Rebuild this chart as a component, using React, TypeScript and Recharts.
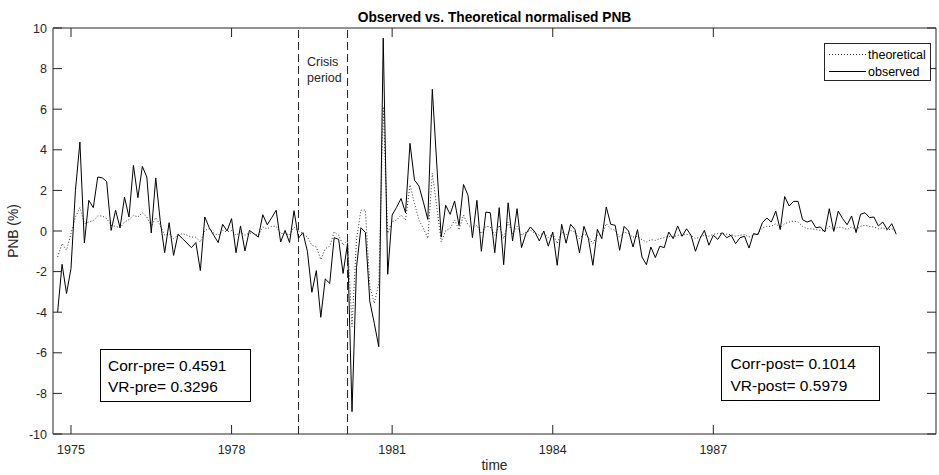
import { LineChart, Line, XAxis, YAxis, ReferenceLine } from "recharts"

// monthly series, first month is Oct 1974
const startYear = 1974.75

const observed = [
  -4.0, -1.64, -3.08, -1.85, 2.0, 4.38, -0.59, 1.51, 1.15, 2.66, 2.62, 2.44,
  0.03, 1.02, 0.16, 1.67, 0.69, 3.23, 1.64, 3.18, 2.66, -0.1, 2.61, 0.52,
  -1.07, 0.41, -1.2, -0.16, -0.38, -0.59, -0.82, -0.57, -1.95, 0.69, 0.16, -0.21,
  -0.57, 0.33, 0.0, 0.61, -1.07, 0.25, -0.98, 0.03, -0.13, -0.3, 0.8, 0.31,
  0.66, 1.02, -0.54, 0.03, -0.57, 1.0, -0.35, -0.08, -1.0, -3.02, -1.95, -4.25,
  -2.36, -2.58, -0.33, -0.41, -2.09, -0.61, -8.9, -1.8, 0.16, -0.07, -3.48, -4.55,
  -5.7, 9.5, -2.13, 0.79, 1.17, 1.6, 0.9, 4.32, 2.51, 2.22, 1.42, 0.57,
  6.98, 3.3, -0.3, 1.27, 0.82, 1.48, 0.27, 2.29, 1.76, -0.33, 1.51, -1.0,
  0.93, 0.9, -1.07, 1.15, -1.66, 1.39, -0.49, 1.1, -0.82, -0.13, 0.2, -0.05,
  -0.49, 0.0, -0.75, -0.05, -1.69, 0.33, -0.6, 0.33, 0.07, -1.08, 0.23, -0.38,
  -1.69, 0.08, -0.38, 1.18, 0.33, 0.28, -0.95, 0.23, 0.0, -0.79, 0.07, -1.28,
  -1.66, -0.79, -1.31, -0.75, -0.82, -0.05, -0.38, 0.25, -0.26, 0.11, -0.21, -1.0,
  -0.38, 0.03, -0.7, -0.21, -0.41, -0.08, -0.33, -0.21, -0.62, -0.33, -0.26, -0.84,
  -0.13, -0.18, 0.41, 0.64, 0.44, 0.98, 0.07, 1.7, 1.23, 1.46, 1.46, 0.56,
  0.44, 0.52, 0.16, 0.2, -0.05, 1.1, -0.02, 0.98, 0.61, 0.31, 0.74, -0.08,
  0.82, 0.9, 0.66, 0.69, 0.25, 0.44, 0.07, 0.36, -0.16,
]

const theoretical = [
  -1.28, -0.62, -0.95, -0.13, 0.69, 1.15, 0.36, 0.44, 0.52, 0.74, 0.74, 0.61,
  0.28, 0.23, 0.16, 0.44, 0.56, 0.77, 0.69, 0.9, 0.69, 0.23, 0.66, 0.28,
  -0.21, -0.13, -0.38, -0.21, -0.13, -0.21, -0.3, -0.3, -0.54, 0.03, 0.11, -0.1,
  -0.21, 0.03, -0.05, 0.03, -0.21, -0.05, -0.21, -0.1, -0.13, -0.21, 0.2, 0.11,
  0.23, 0.23, -0.13, -0.1, -0.21, 0.2, 0.0, -0.13, -0.3, -0.7, -0.79, -1.41,
  -0.87, -0.75, -0.05, -0.21, -0.7, -0.44, -4.71, -0.44, 1.03, 1.03, -2.74, -3.56,
  -2.58, 6.12, -0.11, 0.46, 0.54, 0.79, 0.54, 2.27, 1.36, 0.54, 0.13, -0.36,
  2.84, 1.2, -0.53, 0.02, 0.13, 0.54, 0.05, 0.79, 0.3, 0.11, 0.28, -0.13,
  0.23, 0.2, -0.21, 0.28, -0.38, 0.44, -0.13, 0.23, -0.21, -0.05, 0.03, -0.1,
  -0.21, -0.1, -0.33, -0.13, -0.62, -0.05, -0.21, 0.03, -0.05, -0.38, -0.13, -0.3,
  -0.62, -0.21, -0.21, 0.36, 0.11, 0.03, -0.3, -0.05, -0.13, -0.3, -0.26, -0.43,
  -0.54, -0.43, -0.46, -0.38, -0.33, -0.26, -0.3, -0.21, -0.21, -0.16, -0.21, -0.38,
  -0.3, -0.21, -0.26, -0.16, -0.13, -0.13, -0.16, -0.18, -0.26, -0.21, -0.18, -0.3,
  -0.21, -0.13, 0.16, 0.23, 0.23, 0.36, 0.16, 0.36, 0.44, 0.49, 0.44, 0.23,
  0.11, 0.11, 0.07, 0.03, 0.0, 0.23, 0.07, 0.2, 0.16, 0.07, 0.2, 0.07,
  0.23, 0.28, 0.23, 0.2, 0.11, 0.16, 0.03, 0.11, 0.0,
]

const yearTicks = [1975, 1978, 1981, 1984, 1987]
const pnbTicks = [-10, -8, -6, -4, -2, 0, 2, 4, 6, 8, 10]
const xDomain = [1974.664, 1991.16]
const crisisStart = 1979.25
const crisisEnd = 1980 + 2 / 12

const data = observed.map((v, i) => ({
  t: startYear + i / 12,
  observed: v,
  theoretical: theoretical[i],
}))

const W = 939
const H = 475
const PLOT = { left: 53, right: 936, top: 28, bottom: 434 }
const AXIS = "#262626"
const FONT = "'Liberation Sans', Arial, Helvetica, sans-serif"

function YearTick({ x, payload }: any) {
  return (
    <g>
      <line x1={x} x2={x} y1={PLOT.bottom} y2={PLOT.bottom - 9} stroke={AXIS} />
      <line x1={x} x2={x} y1={PLOT.top} y2={PLOT.top + 9} stroke={AXIS} />
      <text x={x} y={454} textAnchor="middle" fontSize={12.5} fontFamily={FONT} fill={AXIS}>
        {payload.value}
      </text>
    </g>
  )
}

function PnbTick({ y, payload }: any) {
  return (
    <g>
      <line x1={PLOT.left} x2={PLOT.left + 9} y1={y} y2={y} stroke={AXIS} />
      <line x1={PLOT.right} x2={PLOT.right - 9} y1={y} y2={y} stroke={AXIS} />
      <text x={47} y={y} dy="0.36em" textAnchor="end" fontSize={12.5} fontFamily={FONT} fill={AXIS}>
        {payload.value}
      </text>
    </g>
  )
}

export default function App() {
  return (
    <div style={{ position: "absolute", left: 0, top: 0, width: W, height: H, background: "#fff" }}>
      <LineChart width={W} height={H} data={data} margin={{ top: PLOT.top, right: W - PLOT.right, bottom: 0, left: 0 }}>
        <XAxis
          dataKey="t"
          type="number"
          domain={xDomain}
          allowDataOverflow
          ticks={yearTicks}
          interval={0}
          height={H - PLOT.bottom}
          tickLine={false}
          axisLine={{ stroke: AXIS }}
          tick={<YearTick />}
        />
        <YAxis
          type="number"
          domain={[-10, 10]}
          allowDataOverflow
          ticks={pnbTicks}
          interval={0}
          width={PLOT.left}
          tickLine={false}
          axisLine={{ stroke: AXIS }}
          tick={<PnbTick />}
        />
        <ReferenceLine y={10} stroke={AXIS} />
        <ReferenceLine x={xDomain[1]} stroke={AXIS} />
        <ReferenceLine x={crisisStart} stroke="#222" strokeDasharray="8 4" />
        <ReferenceLine x={crisisEnd} stroke="#222" strokeDasharray="8 4" />
        <Line
          dataKey="theoretical"
          type="linear"
          stroke="#333"
          strokeWidth={1}
          strokeDasharray="1 2"
          dot={false}
          isAnimationActive={false}
        />
        <Line
          dataKey="observed"
          type="linear"
          stroke="#000"
          strokeWidth={1}
          dot={false}
          isAnimationActive={false}
        />
      </LineChart>
      <svg
        width={W}
        height={H}
        style={{ position: "absolute", left: 0, top: 0, pointerEvents: "none" }}
        fontFamily={FONT}
      >
        <text x={494.5} y={21.5} textAnchor="middle" fontSize={13.75} fontWeight="bold" fill="#000">
          Observed vs. Theoretical normalised PNB
        </text>
        <text x={494.5} y={470} textAnchor="middle" fontSize={13.75} fill={AXIS}>
          time
        </text>
        <text
          x={18}
          y={231}
          textAnchor="middle"
          fontSize={13.75}
          fill={AXIS}
          transform="rotate(-90 18 231)"
        >
          PNB (%)
        </text>

        <text fontSize={12.5} fill={AXIS}>
          <tspan x={307} y={66}>Crisis</tspan>
          <tspan x={307} y={82}>period</tspan>
        </text>

        <rect x={824.5} y={43.5} width={106} height={37} fill="#fff" stroke={AXIS} />
        <line x1={829} x2={866} y1={54.5} y2={54.5} stroke="#333" strokeDasharray="1 2" />
        <line x1={829} x2={866} y1={71.5} y2={71.5} stroke="#000" />
        <text x={868} y={58.8} fontSize={12.5} fill="#000">theoretical</text>
        <text x={868} y={75.8} fontSize={12.5} fill="#000">observed</text>

        <rect x={100.5} y={349.5} width={150} height={52} fill="#fff" stroke="#000" />
        <text x={108} y={371} fontSize={15.5} fill="#000">Corr-pre= 0.4591</text>
        <text x={108} y={392} fontSize={15.5} fill="#000">VR-pre= 0.3296</text>

        <rect x={721.5} y={346.5} width={158} height={54} fill="#fff" stroke="#000" />
        <text x={730.5} y={369} fontSize={15.5} fill="#000">Corr-post= 0.1014</text>
        <text x={730.5} y={390.5} fontSize={15.5} fill="#000">VR-post= 0.5979</text>
      </svg>
    </div>
  )
}
